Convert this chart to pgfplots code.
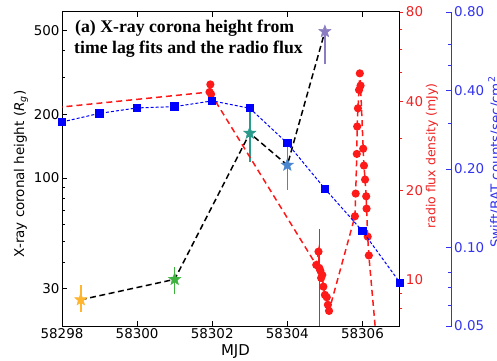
\documentclass[border=0pt]{standalone}
\usepackage{pgfplots}
\pgfplotsset{compat=1.18}
\usepackage{fontspec}
\setmainfont{DejaVu Sans}
\newfontfamily\titlefont{Liberation Serif}
\definecolor{cred}{HTML}{FF1A1A}
\definecolor{credl}{HTML}{EE2222}
\definecolor{cblue}{HTML}{0000FF}
\definecolor{cbluel}{HTML}{3333EE}
\definecolor{corange}{HTML}{FFB52E}
\definecolor{cgreen}{HTML}{3DB23D}
\definecolor{cteal}{HTML}{2A9A8C}
\definecolor{clblue}{HTML}{4A86CF}
\definecolor{cpurple}{HTML}{8B7CC2}
\pgfdeclareplotmark{fstar}{%
  \pgfpathmoveto{\pgfpointpolar{90}{\pgfplotmarksize}}%
  \pgfpathlineto{\pgfpointpolar{126}{0.42\pgfplotmarksize}}%
  \pgfpathlineto{\pgfpointpolar{162}{\pgfplotmarksize}}%
  \pgfpathlineto{\pgfpointpolar{198}{0.42\pgfplotmarksize}}%
  \pgfpathlineto{\pgfpointpolar{234}{\pgfplotmarksize}}%
  \pgfpathlineto{\pgfpointpolar{270}{0.42\pgfplotmarksize}}%
  \pgfpathlineto{\pgfpointpolar{306}{\pgfplotmarksize}}%
  \pgfpathlineto{\pgfpointpolar{342}{0.42\pgfplotmarksize}}%
  \pgfpathlineto{\pgfpointpolar{18}{\pgfplotmarksize}}%
  \pgfpathlineto{\pgfpointpolar{54}{0.42\pgfplotmarksize}}%
  \pgfpathclose\pgfusepathqfillstroke}
\begin{document}
\begin{tikzpicture}[x=1bp,y=1bp]
\pgfplotsset{
  base/.style={scale only axis, width=338bp, height=314bp, at={(0bp,0bp)}, anchor=south west,
    xmin=58298, xmax=58307, scaled x ticks=false,
    /pgf/number format/assume math mode=true,
    ticklabel style={font=\fontsize{13.5}{16}\selectfont},
  },
  starplot/.style={only marks, mark=fstar, mark size=6.5bp, color=#1, fill=#1, draw=#1},
  ebar/.style={#1, solid, line width=1.6bp, mark=none},
}
% main axis: corona height
\begin{axis}[base, ymode=log, ymin=19.9, ymax=611,
  xtick={58298,58300,58302,58304,58306},
  xticklabels={58298,58300,58302,58304,58306},
  xtick pos=both, xticklabel pos=lower,
  ytick={30,100,200,500}, yticklabels={30,100,200,500},
  minor ytick={40,50,60,70,80,90,300,400},
  ytick pos=left,
  tick align=inside,
  major tick length=5bp, minor tick length=3bp,
  axis line style={line width=1bp},
  tick style={line width=0.8bp, black},
  xticklabel style={yshift=1bp},
  yticklabel style={xshift=1bp},
]
\addplot[black, line width=1.5bp, dash pattern=on 6bp off 3.5bp] coordinates {
(58298.5,26.5) (58301.0,33.1) (58303.0,163) (58304.0,115) (58305.0,494)};
% error bars (value - err, value + err)
\addplot[ebar=corange] coordinates {(58298.5,23.2) (58298.5,31.1)};
\addplot[ebar=cgreen] coordinates {(58301.0,28.2) (58301.0,38.0)};
\addplot[ebar=cteal] coordinates {(58303.0,119) (58303.0,218)};
\addplot[ebar=clblue] coordinates {(58304.0,88) (58304.0,148)};
\addplot[ebar=cpurple] coordinates {(58305.0,345) (58305.0,519)};
\addplot[starplot=corange] coordinates {(58298.5,26.5)};
\addplot[starplot=cgreen] coordinates {(58301.0,33.1)};
\addplot[starplot=cteal] coordinates {(58303.0,163)};
\addplot[starplot=clblue] coordinates {(58304.0,115)};
\addplot[starplot=cpurple] coordinates {(58305.0,494)};
\end{axis}
% red axis: radio flux
\begin{axis}[base, ymode=log, ymin=7, ymax=80,
  axis x line=none, axis y line*=right,
  ytick={10,20,40,80}, yticklabels={10,20,40,80},
  minor ytick={8,9,30,50,60,70},
  tick align=outside,
  major tick length=3.5bp, minor tick length=2.5bp,
  y axis line style={black, line width=1bp},
  tick style={credl, line width=0.8bp},
  yticklabel style={text=credl, xshift=-1bp},
]
\addplot[ebar=cred] coordinates {(58304.86,7.0) (58304.86,14.8)};
\addplot[cred, line width=1.5bp, dash pattern=on 6bp off 4bp, mark=*, mark size=3.3bp, mark options={solid}] coordinates {
(58296.0,36.1)
(58301.93,43.0) (58301.95,45.6) (58301.97,42.3)
(58304.77,11.24) (58304.83,12.46) (58304.85,10.98) (58304.88,10.75) (58304.90,10.16)
(58304.93,10.40) (58304.96,9.50) (58305.00,8.91) (58305.05,8.75) (58305.08,8.25) (58305.11,7.87)
(58305.80,16.4) (58305.82,19.56) (58305.85,26.6) (58305.86,32.9) (58305.88,37.9)
(58305.91,43.7) (58305.93,49.7) (58305.95,45.2)
(58306.02,27.7) (58306.04,24.3) (58306.07,21.8) (58306.10,19.15) (58306.11,17.4)
(58306.14,14.0) (58306.17,12.1) (58306.50,4.12)};
\addplot[cred, only marks, mark=*, mark size=3.3bp] coordinates {(58304.86,10.9)};
\end{axis}
% blue data
\begin{axis}[base, ymode=log, ymin=0.05, ymax=0.8, hide axis]
\addplot[cblue, line width=1bp, dash pattern=on 3bp off 2bp, mark=square*, mark size=3.7bp, mark options={solid}] coordinates {
(58298,0.303) (58299,0.327) (58300,0.343) (58301,0.347) (58302,0.365)
(58303,0.342) (58304,0.251) (58305,0.168) (58306,0.1156) (58307,0.0733)};
\end{axis}
% blue spine
\begin{axis}[scale only axis, width=10bp, height=314bp, at={(389.7bp,0bp)}, anchor=south east,
  xmin=0, xmax=1, ymode=log, ymin=0.05, ymax=0.8,
  hide x axis, axis y line*=right,
  /pgf/number format/assume math mode=true,
  ticklabel style={font=\fontsize{13.5}{16}\selectfont},
  ytick={0.05,0.1,0.2,0.4,0.8}, yticklabels={0.05,0.10,0.20,0.40,0.80},
  minor ytick={0.06,0.07,0.08,0.3,0.5,0.6},
  tick align=inside,
  major tick length=6bp, minor tick length=4bp,
  y axis line style={cbluel, line width=1.3bp},
  tick style={cbluel, line width=1bp},
  yticklabel style={text=cbluel, xshift=-1bp},
]
\addplot[draw=none] coordinates {(0.5,0.1)};
\end{axis}
\node[rotate=90, font=\fontsize{13.5}{16}\selectfont] at (-41,152) {X-ray coronal height (\textit{R}\textsubscript{\textit{g}})};
\node[rotate=90, text=credl, font=\fontsize{12.5}{15}\selectfont] at (370,170) {radio flux density (mJy)};
\node[rotate=90, text=cbluel, anchor=north, inner sep=0pt, font=\fontsize{13.5}{16}\selectfont] at (426,164) {Swift/BAT counts/sec/cm\textsuperscript{2}};
\node[font=\fontsize{15}{18}\selectfont] at (173.5,-26) {MJD};
\node[anchor=base west, inner sep=0pt, font=\titlefont\bfseries\fontsize{17.8}{20}\selectfont] at (13,293.3) {(a) X-ray corona height from};
\node[anchor=base west, inner sep=0pt, font=\titlefont\bfseries\fontsize{17.8}{20}\selectfont] at (12,272.7) {time lag fits and the radio flux};
\pgfresetboundingbox
\useasboundingbox (-62,-34) rectangle (435,326);
\end{tikzpicture}
\end{document}
